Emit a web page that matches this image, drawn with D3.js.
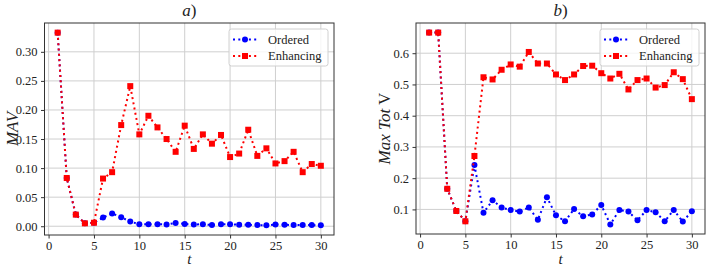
<!DOCTYPE html>
<html><head><meta charset="utf-8">
<script src="https://cdn.jsdelivr.net/npm/d3@7"></script>
<style>
html,body{margin:0;padding:0;background:#fff;}
svg{display:block;}
svg text{font-family:"Liberation Serif",serif;fill:#222;}
</style></head>
<body>
<svg id="chart" width="706" height="266"></svg>
<script>
const t = d3.range(1, 31);
const mavOrdered = [0.333,0.083,0.020,0.005,0.006,0.015,0.022,0.0155,0.008,0.0035,0.0035,0.0035,0.003,0.0057,0.004,0.003,0.0035,0.002,0.0035,0.0035,0.0025,0.0025,0.002,0.0015,0.003,0.0025,0.002,0.002,0.002,0.0015];
const mavEnhancing = [0.333,0.083,0.020,0.005,0.006,0.082,0.093,0.174,0.241,0.158,0.190,0.170,0.150,0.128,0.173,0.133,0.158,0.142,0.157,0.119,0.125,0.166,0.121,0.134,0.108,0.112,0.128,0.093,0.107,0.104];
const totOrdered = [0.666,0.666,0.166,0.095,0.062,0.242,0.089,0.129,0.106,0.098,0.093,0.106,0.067,0.139,0.081,0.062,0.101,0.078,0.084,0.114,0.052,0.098,0.093,0.065,0.098,0.091,0.062,0.098,0.061,0.094];
const totEnhancing = [0.666,0.666,0.166,0.095,0.062,0.271,0.523,0.516,0.547,0.564,0.557,0.604,0.567,0.567,0.532,0.514,0.532,0.559,0.560,0.536,0.519,0.534,0.484,0.514,0.519,0.490,0.498,0.539,0.517,0.453];
const xTicks = [0,5,10,15,20,25,30];
const mavTicks = [0,0.05,0.10,0.15,0.20,0.25,0.30];
const totTicks = [0.1,0.2,0.3,0.4,0.5,0.6];
const seriesNames = ["Ordered","Enhancing"];
const colors = {Ordered:"#0000ff", Enhancing:"#ff0000"};
const FONT = '"Liberation Serif", serif';

const svg = d3.select("#chart");

function pad(ext){ const r = ext[1]-ext[0]; return [ext[0]-0.05*r, ext[1]+0.05*r]; }

function panel(opts){
  const {x0,x1,y0,y1,ord,enh,yTicks,yFmt,title,ylabel,ylabX} = opts;
  const g = svg.append("g");
  const x = d3.scaleLinear().domain(pad(d3.extent(t))).range([x0,x1]);
  const y = d3.scaleLinear().domain(pad(d3.extent(ord.concat(enh)))).range([y1,y0]);
  // grid
  g.append("g").selectAll("line").data(xTicks).join("line")
    .attr("x1",d=>x(d)).attr("x2",d=>x(d)).attr("y1",y0).attr("y2",y1)
    .attr("stroke","#cfcfcf").attr("stroke-width",1);
  g.append("g").selectAll("line").data(yTicks).join("line")
    .attr("y1",d=>y(d)).attr("y2",d=>y(d)).attr("x1",x0).attr("x2",x1)
    .attr("stroke","#cfcfcf").attr("stroke-width",1);
  // axes
  const xa = g.append("g").attr("transform",`translate(0,${y1})`)
    .call(d3.axisBottom(x).tickValues(xTicks).tickSize(3.5).tickPadding(3).tickFormat(d3.format("d")));
  const ya = g.append("g").attr("transform",`translate(${x0},0)`)
    .call(d3.axisLeft(y).tickValues(yTicks).tickSize(3.5).tickPadding(3.5).tickFormat(d3.format(yFmt)));
  [xa,ya].forEach(a=>{
    a.attr("font-family",FONT).attr("font-size",12.5);
    a.select(".domain").remove();
    a.selectAll("line").attr("stroke","#333");
    a.selectAll("text").style("font-family",FONT).style("font-size","12.5px").attr("fill","#222");
  });
  // frame
  g.append("rect").attr("x",x0).attr("y",y0).attr("width",x1-x0).attr("height",y1-y0)
    .attr("fill","none").attr("stroke","#333").attr("stroke-width",1);
  // series
  const line = d3.line().x((d,i)=>x(t[i])).y(d=>y(d));
  const data = [["Ordered",ord],["Enhancing",enh]];
  data.forEach(([name,vals])=>{
    const c = colors[name];
    g.append("path").datum(vals).attr("d",line).attr("fill","none")
      .attr("stroke",c).attr("stroke-width",2).attr("stroke-dasharray","2,3.3");
    if(name==="Ordered"){
      g.append("g").selectAll("circle").data(vals).join("circle")
        .attr("cx",(d,i)=>x(t[i])).attr("cy",d=>y(d)).attr("r",3).attr("fill",c);
    } else {
      g.append("g").selectAll("rect").data(vals).join("rect")
        .attr("x",(d,i)=>x(t[i])-3).attr("y",d=>y(d)-3).attr("width",6).attr("height",6).attr("fill",c);
    }
  });
  // legend
  const lx = x1-105, ly = y0+6, lw = 99, lh = 37;
  const lg = g.append("g");
  lg.append("rect").attr("x",lx).attr("y",ly).attr("width",lw).attr("height",lh).attr("rx",2.5)
    .attr("fill","#fff").attr("fill-opacity",0.8).attr("stroke","#d0d0d0").attr("stroke-width",1);
  seriesNames.forEach((name,i)=>{
    const cy = ly + 10.5 + i*16.5;
    const c = colors[name];
    lg.append("line").attr("x1",lx+4).attr("x2",lx+28).attr("y1",cy).attr("y2",cy)
      .attr("stroke",c).attr("stroke-width",2).attr("stroke-dasharray","2,3.3");
    if(name==="Ordered") lg.append("circle").attr("cx",lx+16).attr("cy",cy).attr("r",3).attr("fill",c);
    else lg.append("rect").attr("x",lx+13).attr("y",cy-3).attr("width",6).attr("height",6).attr("fill",c);
    lg.append("text").attr("x",lx+39).attr("y",cy+4).style("font-family",FONT).style("font-size","12.5px").text(name);
  });
  // title
  const tt = g.append("text").attr("x",(x0+x1)/2).attr("y",16).attr("text-anchor","middle")
    .style("font-family",FONT).style("font-size","17px");
  tt.append("tspan").attr("font-style","italic").text(title);
  tt.append("tspan").text(")");
  // x label
  g.append("text").attr("x",(x0+x1)/2).attr("y",263.5).attr("text-anchor","middle")
    .style("font-family",FONT).style("font-size","15px").attr("font-style","italic").text("t");
  // y label
  const yl = g.append("text").attr("transform",`translate(${ylabX},${(y0+y1)/2}) rotate(-90)`)
    .attr("text-anchor","middle").style("font-family",FONT).style("font-size","17px");
  ylabel.forEach(([s,it])=> yl.append("tspan").attr("font-style",it?"italic":"normal").text(s));
}

panel({x0:44.5,x1:334,y0:23,y1:235,ord:mavOrdered,enh:mavEnhancing,yTicks:mavTicks,yFmt:".2f",
  title:"a",ylabel:[["MAV",true]],ylabX:18});
panel({x0:416,x1:705,y0:23,y1:234,ord:totOrdered,enh:totEnhancing,yTicks:totTicks,yFmt:".1f",
  title:"b",ylabel:[["Max Tot",true],[" V",false]],ylabX:390});
</script>
</body></html>
